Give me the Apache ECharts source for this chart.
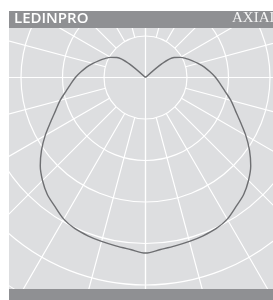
<!DOCTYPE html>
<html>
<head>
<meta charset="utf-8">
<style>
  html, body { margin: 0; padding: 0; background: #ffffff; }
  #main { width: 273px; height: 300px; }
</style>
<script src="https://cdn.jsdelivr.net/npm/echarts@6/dist/echarts.min.js"></script>
</head>
<body>
<div id="main"></div>
<script>
// angle from straight down (deg), one half of the symmetric curve
var angles = [0, 5, 10, 15, 20, 25, 30, 35, 40, 45, 50, 55, 60, 65, 70, 75, 80, 85, 90,
              95, 100, 105, 110, 115, 120, 125, 130, 135, 140, 150, 160, 170, 180];
// luminous intensity, same units as the radius rings
var intensity = [423, 416, 412, 409, 406, 402, 394, 380, 368, 351, 331, 306, 279, 252, 230, 213, 195, 181, 169,
                 156, 144, 131, 119, 108, 97, 84, 52, 0, 0, 0, 0, 0, 0];
var ringValues = [100, 200, 300, 400, 500, 600, 700];
var headerLeft = 'LEDINPRO';
var headerRight = 'AXIAL';

var chart = echarts.init(document.getElementById('main'));

// one closed loop: left half from top to bottom, then right half back up
var curve = [];
for (var i = angles.length - 1; i >= 0; i--) {
    curve.push([intensity[i], angles[i]]);
}
for (var j = 1; j < angles.length; j++) {
    curve.push([intensity[j], 360 - angles[j]]);
}

var centerPos = [145.5, 77.5];
var ringPx = 41.5;
var outerPx = ringPx * ringValues.length;
var gridLine = { show: true, lineStyle: { color: '#ffffff', width: 1.2 } };
var hidden = { show: false };

var option = {
    backgroundColor: '#dddee0',
    animation: false,
    polar: [
        { center: centerPos, radius: [ringPx, outerPx] },
        { center: centerPos, radius: [0, outerPx] }
    ],
    angleAxis: [
        {
            polarIndex: 0, type: 'value', min: 0, max: 360, interval: 15, startAngle: 270,
            axisLine: hidden, axisTick: hidden, axisLabel: hidden, splitLine: gridLine
        },
        {
            polarIndex: 1, type: 'value', min: 0, max: 360, interval: 90, startAngle: 270,
            axisLine: hidden, axisTick: hidden, axisLabel: hidden, splitLine: gridLine
        }
    ],
    radiusAxis: [
        {
            polarIndex: 0, type: 'value', min: ringValues[0], max: ringValues[ringValues.length - 1],
            axisLine: hidden, axisTick: hidden, axisLabel: hidden, splitLine: hidden
        },
        {
            polarIndex: 1, type: 'value', min: 0, max: ringValues[ringValues.length - 1], interval: 100,
            axisLine: hidden, axisTick: hidden, axisLabel: hidden, splitLine: gridLine
        }
    ],
    series: [{
        type: 'line',
        coordinateSystem: 'polar',
        polarIndex: 1,
        data: curve,
        symbol: 'none',
        smooth: 0.3,
        lineStyle: { color: '#6e6f72', width: 1.4 }
    }],
    graphic: [
        { type: 'rect', z: 100, shape: { x: 0, y: 0, width: 273, height: 11 }, style: { fill: '#ffffff' } },
        { type: 'rect', z: 100, shape: { x: 0, y: 0, width: 9, height: 300 }, style: { fill: '#ffffff' } },
        { type: 'rect', z: 100, shape: { x: 9, y: 11, width: 264, height: 17 }, style: { fill: '#8f9093' } },
        { type: 'rect', z: 100, shape: { x: 9, y: 289, width: 264, height: 11 }, style: { fill: '#8f9093' } },
        {
            type: 'text', z: 101, left: 14, top: 11,
            style: { text: headerLeft, fill: '#ffffff', font: '600 15px "Open Sans"' }
        },
        {
            type: 'text', z: 101, left: 232, top: 11,
            style: { text: headerRight, fill: '#f4f4f4', font: '15px "Liberation Serif"' }
        }
    ]
};

chart.setOption(option);
</script>
</body>
</html>
